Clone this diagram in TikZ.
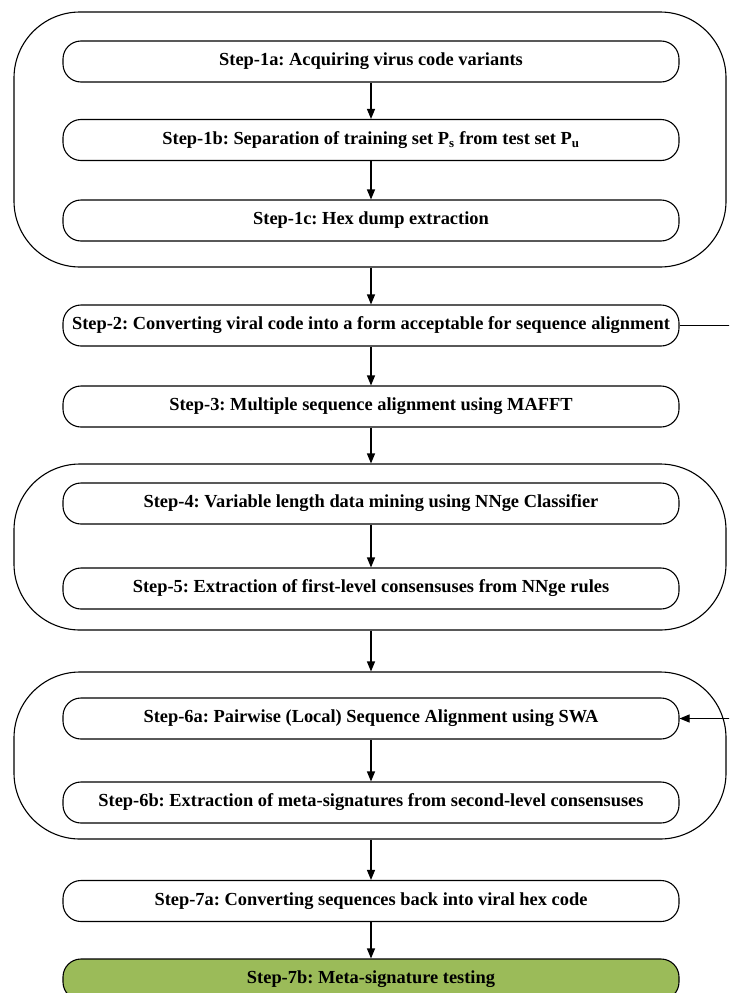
\documentclass[tikz,border=0pt]{standalone}
\usepackage{fontspec}
\setmainfont{Liberation Serif}
\usetikzlibrary{arrows.meta}
\usetikzlibrary{positioning}

\definecolor{stepgreen}{RGB}{155,187,89}

\begin{document}
\frenchspacing
\begin{tikzpicture}[x = 1pt, y = -1pt, line width = 1.1pt,
    stepbox/.style = {draw, rounded corners = 18pt, minimum width = 616pt,
        minimum height = 41pt, inner sep = 0pt, fill = white,
        font = \fontsize{18.4}{18.4}\selectfont\bfseries},
    groupbox/.style = {draw, rounded corners = 66pt, minimum width = 712pt,
        inner sep = 0pt},
    flow/.style = {-{Triangle[length = 10pt, width = 8pt]}}]

    \clip[use as bounding box] (0,0) rectangle (729,993);

    % outer groups
    \node[groupbox, minimum height = 255pt] (g1) at (370,139.5) {};
    \node[groupbox, minimum height = 166pt] (g2) at (370,547) {};
    \node[groupbox, minimum height = 167pt] (g3) at (370,755.5) {};

    % steps
    \node[stepbox] (s1a) at (371,61.5)  {Step-1a: Acquiring virus code variants};
    \node[stepbox] (s1b) at (371,140)   {Step-1b: Separation of training set P\textsubscript{s} from test set P\textsubscript{u}};
    \node[stepbox] (s1c) at (371,220.5) {Step-1c: Hex dump extraction};
    \node[stepbox] (s2)  at (371,325.5) {Step-2: Converting viral code into a form acceptable for sequence alignment};
    \node[stepbox] (s3)  at (371,406.5) {Step-3: Multiple sequence alignment using MAFFT};
    \node[stepbox] (s4)  at (371,503.5) {Step-4: Variable length data mining using NNge Classifier};
    \node[stepbox] (s5)  at (371,588.5) {Step-5: Extraction of first-level consensuses from NNge rules};
    \node[stepbox] (s6a) at (371,718.5) {Step-6a: Pairwise (Local) Sequence Alignment using SWA};
    \node[stepbox] (s6b) at (371,802.5) {Step-6b: Extraction of meta-signatures from second-level consensuses};
    \node[stepbox] (s7a) at (371,901)   {Step-7a: Converting sequences back into viral hex code};
    \node[stepbox, fill = stepgreen] (s7b) at (371,979.5) {Step-7b: Meta-signature testing};

    % connectors
    \foreach \FROM/\TO in {s1a/s1b, s1b/s1c, g1/s2, s2/s3, s3/g2, s4/s5,
                           g2/g3, s6a/s6b, g3/s7a, s7a/s7b}
        \draw[flow] (\FROM.south -| s1a) -- (\TO.north -| s1a);

    % loop back, cut off at the right
    \coordinate (LoopOut) at (740,325.5);
    \coordinate (LoopIn)  at (740,718.5);
    \draw (s2.east) -- (LoopOut);
    \draw[flow] (LoopIn) -- (s6a.east);

\end{tikzpicture}
\end{document}
